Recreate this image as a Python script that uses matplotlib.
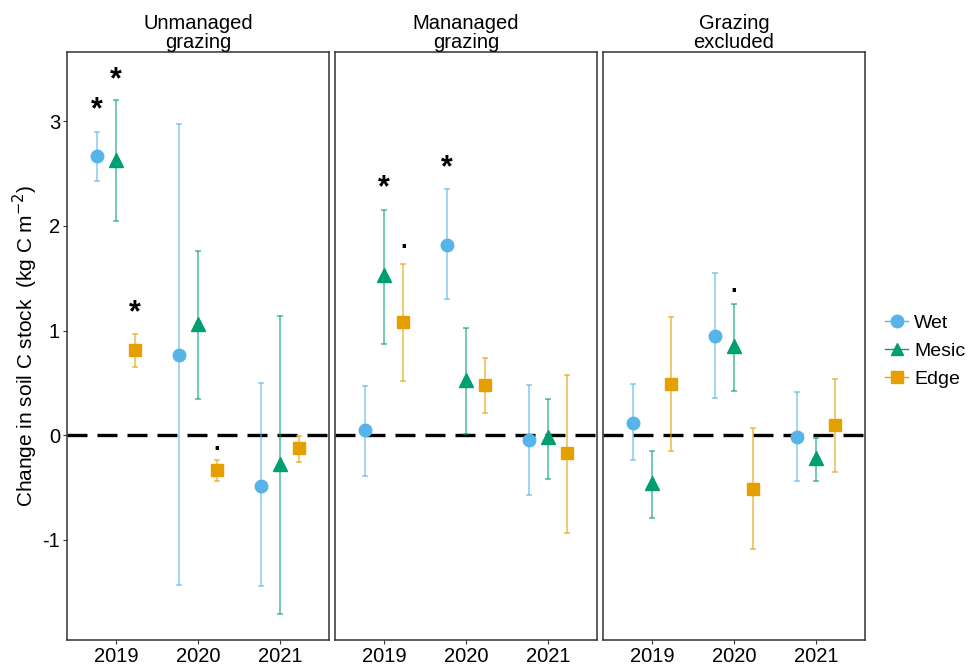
import numpy as np
import matplotlib
matplotlib.use("Agg")
import matplotlib.pyplot as plt
from matplotlib.lines import Line2D

plt.rcParams['font.family'] = ['Liberation Sans', 'DejaVu Sans']

years = ['2019', '2020', '2021']
panels = ['Unmanaged\ngrazing', 'Mananaged\ngrazing', 'Grazing\nexcluded']
sites = ['Wet', 'Mesic', 'Edge']
colors = {'Wet': '#56B4E9', 'Mesic': '#009E73', 'Edge': '#E69F00'}
markers = {'Wet': 'o', 'Mesic': '^', 'Edge': 's'}

# mean change and error bar limits, [panel][site] -> per year
mean = {
    'Wet':   [[2.67, 0.77, -0.48], [0.05, 1.82, -0.045], [0.12, 0.95, -0.02]],
    'Mesic': [[2.63, 1.06, -0.27], [1.53, 0.53, -0.02], [-0.46, 0.85, -0.22]],
    'Edge':  [[0.815, -0.335, -0.125], [1.085, 0.48, -0.17], [0.49, -0.51, 0.10]],
}
upper = {
    'Wet':   [[2.90, 2.97, 0.50], [0.47, 2.35, 0.48], [0.49, 1.55, 0.41]],
    'Mesic': [[3.20, 1.76, 1.14], [2.15, 1.02, 0.35], [-0.15, 1.25, -0.03]],
    'Edge':  [[0.97, -0.24, -0.01], [1.64, 0.74, 0.58], [1.13, 0.07, 0.54]],
}
lower = {
    'Wet':   [[2.43, -1.43, -1.44], [-0.386, 1.30, -0.57], [-0.235, 0.356, -0.44]],
    'Mesic': [[2.05, 0.35, -1.71], [0.87, 0.01, -0.42], [-0.79, 0.42, -0.44]],
    'Edge':  [[0.65, -0.44, -0.255], [0.52, 0.21, -0.93], [-0.15, -1.09, -0.35]],
}

# significance labels: (panel, site, year index, label, y)
sig_panel = [0, 0, 0, 0, 1, 1, 1, 2]
sig_site = ['Wet', 'Mesic', 'Edge', 'Edge', 'Mesic', 'Edge', 'Wet', 'Mesic']
sig_year = [0, 0, 0, 1, 0, 0, 1, 1]
sig_label = ['*', '*', '*', '.', '*', '.', '*', '.']
sig_y = [3.10, 3.39, 1.17, -0.08, 2.36, 1.85, 2.55, 1.43]

dodge = {'Wet': -0.233, 'Mesic': 0.0, 'Edge': 0.233}

fig = plt.figure(figsize=(9.71, 6.65), dpi=100)
lefts = [67, 335, 603]
axes = []
for i, title in enumerate(panels):
    ax = fig.add_axes([lefts[i] / 971, 25 / 665, 262 / 971, 588 / 665])
    axes.append(ax)
    x = np.arange(1, 4)
    ax.axhline(0, color='black', lw=2.4, dashes=(6, 3), zorder=1)
    for s in sites:
        xs = x + dodge[s]
        m = np.array(mean[s][i])
        lo = m - np.array(lower[s][i])
        hi = np.array(upper[s][i]) - m
        ax.errorbar(xs, m, yerr=[lo, hi], fmt='none', ecolor=colors[s],
                    alpha=0.65, elinewidth=1.2, capsize=2.5, capthick=1.2, zorder=2)
        ax.plot(xs, m, ls='none', marker=markers[s], color=colors[s],
                markersize=9 if s != 'Mesic' else 10, zorder=3)
    for p, s, yi, lab, yv in zip(sig_panel, sig_site, sig_year, sig_label, sig_y):
        if p != i:
            continue
        if lab == '*':
            ax.text(yi + 1 + dodge[s], yv, lab, ha='center', va='center',
                    fontsize=22, fontweight='bold')
        else:
            ax.text(yi + 1 + dodge[s], yv, lab, ha='center', va='center',
                    fontsize=17, fontweight='bold')
    ax.set_xlim(0.4, 3.6)
    ax.set_ylim(-1.955, 3.66)
    ax.set_xticks(x)
    ax.set_xticklabels(years, fontsize=14.5)
    ax.set_yticks([-1, 0, 1, 2, 3])
    ax.tick_params(length=3, color='#333333', width=0.8, pad=2)
    ax.set_title(title, fontsize=14.5, pad=3, linespacing=1.0)
    for sp in ax.spines.values():
        sp.set_color('#333333')
        sp.set_linewidth(1.1)
    if i == 0:
        ax.set_yticklabels(['-1', '0', '1', '2', '3'], fontsize=14.5)
        ax.set_ylabel('Change in soil C stock  (kg C m$^{-2}$)', fontsize=15, labelpad=2)
    else:
        ax.tick_params(axis='y', left=False, labelleft=False)

handles = [Line2D([0], [0], color=colors[s], marker=markers[s], markersize=9,
                  lw=1, alpha=1) for s in sites]
fig.legend(handles, sites, loc='center left', bbox_to_anchor=(885 / 971, 1 - 351 / 665),
           frameon=False, fontsize=14, handlelength=1.2, handletextpad=0.3,
           labelspacing=0.55, borderpad=0.0, borderaxespad=0.0)

fig.savefig('out.png', dpi=100)
